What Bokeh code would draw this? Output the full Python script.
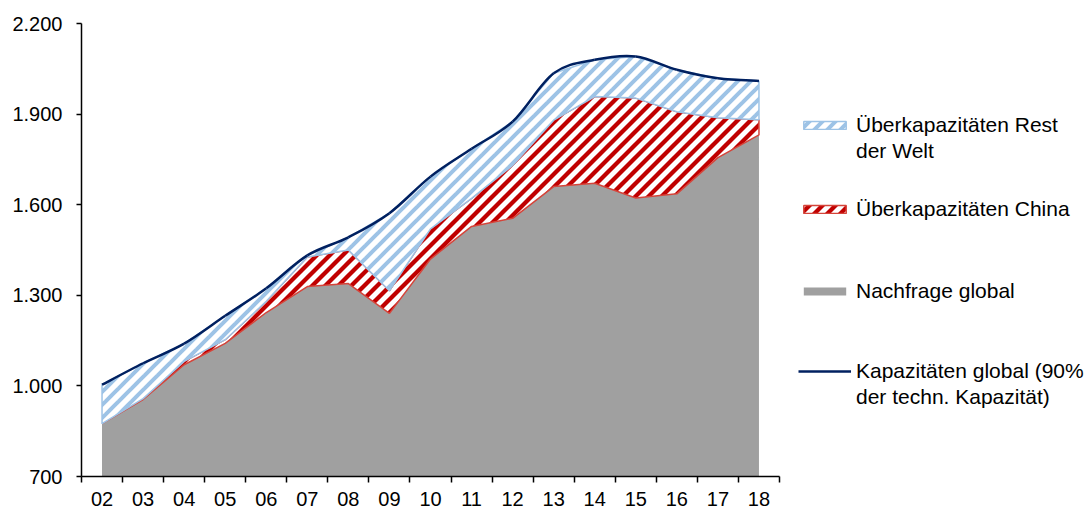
import numpy as np
from bokeh.plotting import figure
from bokeh.models import FixedTicker, Legend, LegendItem, Range1d, CanvasTexture
from bokeh.embed import file_html
from bokeh.resources import INLINE

# ---- data ----
years = ["02", "03", "04", "05", "06", "07", "08", "09", "10",
         "11", "12", "13", "14", "15", "16", "17", "18"]
demand = [875, 955, 1070, 1141, 1243, 1329, 1339, 1240, 1420,
          1528, 1555, 1660, 1671, 1622, 1636, 1756, 1831]
china_over = [0, 3, 11, 12, 37, 98, 111, 75, 100,
              93, 175, 220, 287, 331, 272, 132, 50]
capacity = [1004, 1075, 1140, 1232, 1323, 1432, 1492, 1572, 1693,
            1785, 1875, 2035, 2080, 2091, 2047, 2019, 2010]
y_ticks = [700, 1000, 1300, 1600, 1900, 2200]
y_tick_labels = ["700", "1.000", "1.300", "1.600", "1.900", "2.200"]

legend_rest = ["Überkapazitäten Rest", "der Welt"]
legend_china = ["Überkapazitäten China"]
legend_demand = ["Nachfrage global"]
legend_capacity = ["Kapazitäten global (90%", "der techn. Kapazität)"]

FONT = "Liberation Sans"

# ---- layout (pixels) ----
W, H = 1090, 508
LEFT, TOP, RIGHT, BOTTOM = 81, 23, 779, 476

n = len(years)
x = np.arange(n, dtype=float)
dem = np.array(demand, dtype=float)
ctop = dem + np.array(china_over, dtype=float)
cap = np.array(capacity, dtype=float)

# the frame runs to the right edge so the legend can sit inside it;
# the x axis itself is bounded to the category span
cat_px = (RIGHT - LEFT) / n
x_end = -0.5 + (W - LEFT) / cat_px

p = figure(width=W, height=H,
           x_range=Range1d(-0.5, x_end), y_range=Range1d(y_ticks[0], y_ticks[-1]),
           output_backend="svg", toolbar_location=None,
           min_border_left=LEFT, min_border_right=0,
           min_border_top=TOP, min_border_bottom=H - BOTTOM)
p.grid.visible = False
p.outline_line_color = None
p.background_fill_color = "white"


def make_stripes(stroke):
    """45 degree stripe texture; tile size = hatch_scale, stripe width = stroke."""
    return CanvasTexture(code="""
const nums = Array.from(arguments).slice(2).filter(v => typeof v === "number" && isFinite(v));
const S = nums.length ? Math.max(1, Math.round(Math.max(...nums))) : 13;
const cv = ctx.canvas;
cv.width = S;
cv.height = S;
ctx.clearRect(0, 0, S, S);
ctx.strokeStyle = color;
ctx.lineWidth = %s;
for (const o of [-S, 0, S]) {
  ctx.beginPath();
  ctx.moveTo(o - 2, S + 2);
  ctx.lineTo(o + S + 2, -2);
  ctx.stroke();
}
""" % stroke)


red_stripes = make_stripes(4.3)
blue_stripes = make_stripes(4.0)

# demand (grey area)
r_dem = p.varea(x=x, y1=0, y2=dem, fill_color="#a0a0a0")

# China overcapacity (hatched red)
r_chn = p.patch(x=np.concatenate([x, x[::-1]]), y=np.concatenate([ctop, dem[::-1]]),
                fill_color="white", hatch_pattern="stripes", hatch_extra={"stripes": red_stripes},
                hatch_color="#C00000", hatch_scale=13,
                line_color="#D5443A", line_width=1.5)

# rest of world overcapacity (hatched light blue)
r_row = p.patch(x=np.concatenate([x, x[::-1]]), y=np.concatenate([cap, ctop[::-1]]),
                fill_color="white", hatch_pattern="stripes", hatch_extra={"stripes": blue_stripes},
                hatch_color="#9DC3E6", hatch_scale=13,
                line_color="#9DC3E6", line_width=1.5)

# capacity line, smoothed (Catmull-Rom -> cubic Bezier)
x0, y0, x1, y1, cx0, cy0, cx1, cy1 = [], [], [], [], [], [], [], []
for i in range(n - 1):
    a = max(i - 1, 0)
    d = min(i + 2, n - 1)
    x0.append(x[i]); y0.append(cap[i]); x1.append(x[i + 1]); y1.append(cap[i + 1])
    cx0.append(x[i] + (x[i + 1] - x[a]) / 6.0)
    cy0.append(cap[i] + (cap[i + 1] - cap[a]) / 6.0)
    cx1.append(x[i + 1] - (x[d] - x[i]) / 6.0)
    cy1.append(cap[i + 1] - (cap[d] - cap[i]) / 6.0)
r_cap = p.bezier(x0=x0, y0=y0, x1=x1, y1=y1, cx0=cx0, cy0=cy0, cx1=cx1, cy1=cy1,
                 line_color="#002060", line_width=2.5)

# x axis: labels at category centres, tick marks at category borders
xa = p.xaxis[0]
xa.bounds = (-0.5, n - 0.5)
xa.ticker = FixedTicker(ticks=list(x), minor_ticks=list(np.arange(n + 1) - 0.5))
xa.major_label_overrides = {int(i): years[int(i)] for i in x}
xa.major_tick_out = 0
xa.major_tick_in = 0
xa.minor_tick_out = 6
xa.minor_tick_in = 0
xa.minor_tick_line_color = "black"
xa.minor_tick_line_width = 1.5
xa.axis_line_color = "black"
xa.axis_line_width = 1.5
xa.major_label_standoff = 9
xa.major_label_text_font = FONT
xa.major_label_text_font_size = "20px"
xa.major_label_text_color = "black"

ya = p.yaxis[0]
ya.ticker = FixedTicker(ticks=y_ticks, minor_ticks=[])
ya.major_label_overrides = {t: l for t, l in zip(y_ticks, y_tick_labels)}
ya.major_tick_out = 5
ya.major_tick_in = 0
ya.major_tick_line_color = "black"
ya.major_tick_line_width = 1.5
ya.axis_line_color = "black"
ya.axis_line_width = 1.5
ya.major_label_standoff = 14
ya.major_label_text_font = FONT
ya.major_label_text_font_size = "20px"
ya.major_label_text_color = "black"

# ---- legend: one block per entry, second text line without a swatch ----
ITEM_H = 22.5      # height of one legend row (21px text)
LINE_GAP = 2       # extra gap between the two text lines of one entry
SW_X = 798         # swatch left edge (picture px)
blocks = [(legend_rest, r_row, 127), (legend_china, r_chn, 209.5),
          (legend_demand, r_dem, 292), (legend_capacity, r_cap, 373)]
for lines, rend, cy in blocks:
    items = [LegendItem(label=lines[0], renderers=[rend])]
    items += [LegendItem(label=t, renderers=[]) for t in lines[1:]]
    k = len(items)
    top = cy - ITEM_H / 2
    bottom = top + k * ITEM_H + (k - 1) * LINE_GAP
    lg = Legend(items=items, location=(SW_X - LEFT, BOTTOM - bottom),
                glyph_width=53, glyph_height=10,
                label_text_font=FONT, label_text_font_size="21px",
                label_text_color="black", label_standoff=5,
                padding=0, margin=0, spacing=LINE_GAP,
                border_line_color=None, background_fill_alpha=0)
    p.add_layout(lg)

open("out.html", "w").write(file_html(p, INLINE))
